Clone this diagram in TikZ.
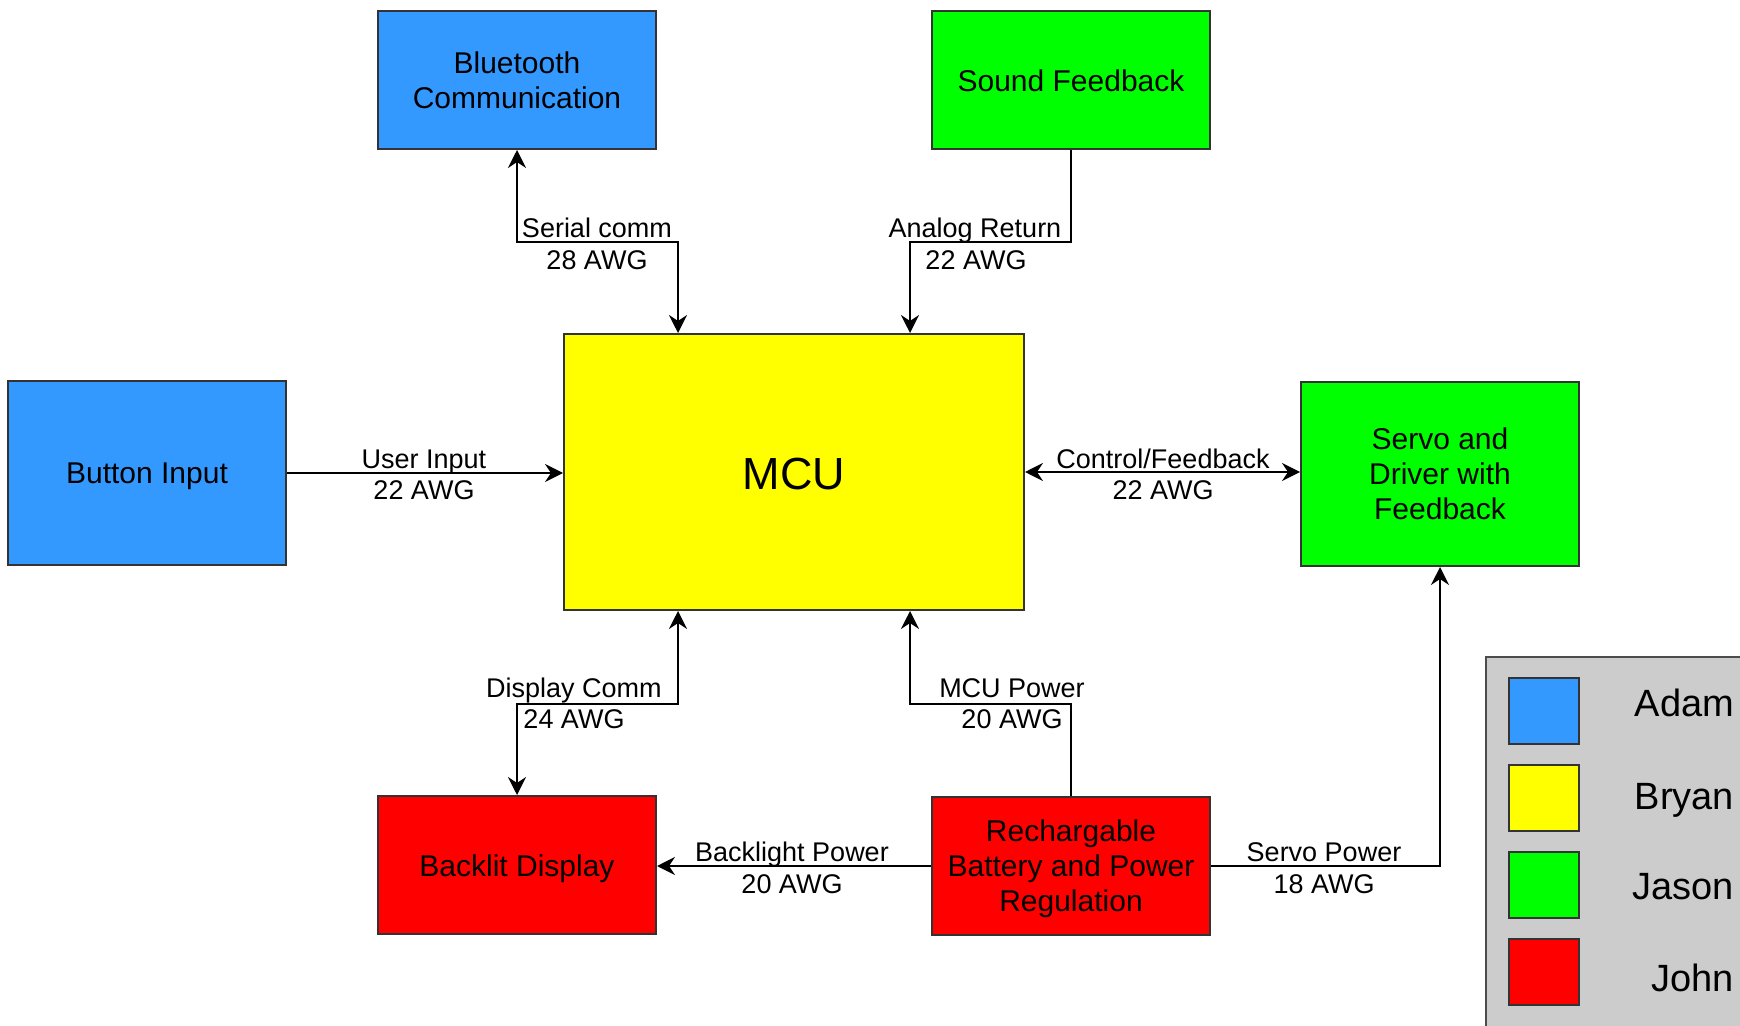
\documentclass[tikz,border=0pt]{standalone}
\usepackage{fontspec}
\setmainfont{Liberation Sans}
\usetikzlibrary{arrows.meta}

\definecolor{adamblue}{HTML}{3399FF}
\definecolor{bryanyellow}{HTML}{FFFF00}
\definecolor{jasongreen}{HTML}{00FF00}
\definecolor{johnred}{HTML}{FF0000}
\definecolor{legendgray}{HTML}{CCCCCC}

\begin{document}
\begin{tikzpicture}[x=0.5pt,y=-0.5pt,>={Stealth[length=9pt,width=9pt,inset=3pt]},line width=1pt,
    block/.style={draw=black!80,minimum width=139pt,minimum height=69pt,inner sep=2pt,text depth=0pt,align=center,font=\fontsize{15}{17.5}\selectfont},
    wire label/.style={anchor=base,inner sep=0pt,font=\fontsize{13.5}{16}\selectfont},
    swatch/.style={draw=black!80,minimum width=35pt,minimum height=33pt,inner sep=0pt},
    who/.style={anchor=base east,inner sep=0pt,font=\fontsize{19}{22}\selectfont}]

    \useasboundingbox (0,0) rectangle (1740,1026);

    % blocks
    \node[block,fill=adamblue] (bt) at (517,80) {Bluetooth\\Communication};
    \node[block,fill=jasongreen] (sound) at (1071,80) {\raisebox{-0.5pt}{Sound Feedback}};
    \node[block,fill=bryanyellow,minimum width=230pt,minimum height=138pt,font=\fontsize{22.5}{26}\selectfont] (mcu) at (794,472) {\raisebox{-1.6pt}{MCU}};
    \node[block,fill=adamblue,minimum height=92pt] (button) at (147,473) {Button Input};
    \node[block,fill=jasongreen,minimum height=92pt] (servo) at (1440,474) {Servo and\\Driver with\\Feedback};
    \node[block,fill=johnred] (backlit) at (517,865) {\raisebox{-1pt}{Backlit Display}};
    \node[block,fill=johnred] (battery) at (1071,866) {Rechargable\\Battery and Power\\Regulation};

    % wires
    \coordinate (serial) at (678,242);
    \coordinate (analog) at (910,242);
    \coordinate (dispcomm) at (678,704);
    \coordinate (mcupower) at (910,704);

    \draw[<->] (bt.south) |- (serial) -- (serial |- mcu.north);
    \draw[->] (sound.south) |- (analog) -- (analog |- mcu.north);
    \draw[->] (button.east) -- (button.east -| mcu.west);
    \draw[<->] (mcu.east) -- (mcu.east -| servo.west);
    \draw[<->] (backlit.north) |- (dispcomm) -- (dispcomm |- mcu.south);
    \draw[->] (battery.north) |- (mcupower) -- (mcupower |- mcu.south);
    \draw[->] (battery.west) -- (battery.west -| backlit.east);
    \draw[->] (battery.east) -| (servo.south);

    % wire labels
    \node[wire label] (serial top) at (597,238) {Serial comm};
    \node[wire label] (serial bot) at (597,270) {28 AWG};
    \node[wire label] (analog top) at (975,238) {Analog Return};
    \node[wire label] (analog bot) at (976,270) {22 AWG};
    \node[wire label] (user top) at (424,468) {User Input};
    \node[wire label] (user bot) at (424,500) {22 AWG};
    \node[wire label] (ctrl top) at (1163,468) {Control/Feedback};
    \node[wire label] (ctrl bot) at (1163,500) {22 AWG};
    \node[wire label] (disp top) at (574,697) {Display Comm};
    \node[wire label] (disp bot) at (574,728) {24 AWG};
    \node[wire label] (power top) at (1012,697) {MCU Power};
    \node[wire label] (power bot) at (1012,728) {20 AWG};
    \node[wire label] (light top) at (792,861) {Backlight Power};
    \node[wire label] (light bot) at (792,893) {20 AWG};
    \node[wire label] (servo top) at (1324,861) {Servo Power};
    \node[wire label] (servo bot) at (1324,893) {18 AWG};

    % legend
    \draw[draw=black!70,fill=legendgray] (1486,657) rectangle (1745,1031);
    \node[swatch,fill=adamblue] (adam) at (1544,711) {};
    \node[swatch,fill=bryanyellow] (bryan) at (1544,798) {};
    \node[swatch,fill=jasongreen] (jason) at (1544,885) {};
    \node[swatch,fill=johnred] (john) at (1544,972) {};
    \node[who] (adam name) at (1735,716) {Adam};
    \node[who] (bryan name) at (1735,809) {Bryan};
    \node[who] (jason name) at (1735,899) {Jason};
    \node[who] (john name) at (1735,991) {John};
\end{tikzpicture}
\end{document}
